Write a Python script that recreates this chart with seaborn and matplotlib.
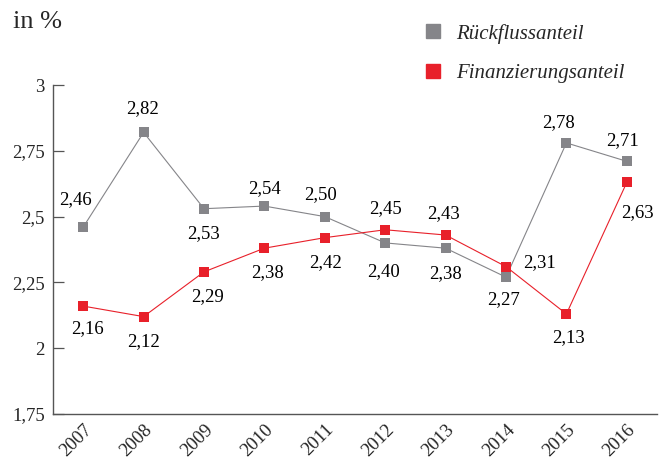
import matplotlib
matplotlib.use("Agg")
import matplotlib.pyplot as plt
import matplotlib.transforms as mtransforms
import numpy as np
import pandas as pd
import seaborn as sns
from matplotlib.lines import Line2D

years = [2007, 2008, 2009, 2010, 2011, 2012, 2013, 2014, 2015, 2016]
rueckfluss = [2.46, 2.82, 2.53, 2.54, 2.50, 2.40, 2.38, 2.27, 2.78, 2.71]
finanzierung = [2.16, 2.12, 2.29, 2.38, 2.42, 2.45, 2.43, 2.31, 2.13, 2.63]
series_names = ["Rückflussanteil", "Finanzierungsanteil"]
y_ticks = [1.75, 2.0, 2.25, 2.5, 2.75, 3.0]
y_ticklabels = ["1,75", "2", "2,25", "2,5", "2,75", "3"]

# label offsets in pixels (dx, dy)
off_r = [(-8, 28), (-1, 24), (0, -25), (0, 17), (-4, 22),
         (-2, -29), (0, -25), (-3, -22), (-8, 20), (-4, 21)]
off_f = [(4, -23), (0, -25), (4, -25), (3, -24), (1, -25),
         (0, 21), (-2, 21), (33, 4), (2, -24), (11, -30)]

GRAY = "#858589"
RED = "#e8202a"

sns.set_style("white")
plt.rcParams["font.family"] = ["Liberation Serif", "DejaVu Serif"]

df = pd.DataFrame({"Jahr": years * 2,
                   "Wert": rueckfluss + finanzierung,
                   "Reihe": [series_names[0]] * len(years) + [series_names[1]] * len(years)})

fig = plt.figure(figsize=(6.68, 4.59), dpi=100)
ax = fig.add_axes([53 / 668, 45 / 459, 604 / 668, 329 / 459])

sns.lineplot(data=df, x="Jahr", y="Wert", hue="Reihe", palette=[GRAY, RED],
             marker="s", markersize=7.5, markeredgewidth=0, linewidth=0.8,
             legend=False, ax=ax)

for vals, offs in [(rueckfluss, off_r), (finanzierung, off_f)]:
    for x, v, (dx, dy) in zip(years, vals, offs):
        ax.annotate(f"{v:.2f}".replace(".", ","), (x, v), xytext=(dx, dy),
                    textcoords="offset pixels", ha="center", va="center",
                    fontsize=13.5, color="black")

ax.set_xlim(years[0] - 0.5, years[-1] + 0.5)
ax.set_ylim(1.75, 3.0)
ax.set_xticks(years)
ax.set_xticklabels([str(y) for y in years], rotation=45, ha="right",
                   rotation_mode="anchor", fontsize=13.5)
shift = mtransforms.ScaledTranslation(-5 / 100, 0, fig.dpi_scale_trans)
for lbl in ax.get_xticklabels():
    lbl.set_transform(lbl.get_transform() + shift)
ax.set_xticks([y + 0.5 for y in years], minor=True)
ax.set_yticks(y_ticks)
ax.set_yticklabels(y_ticklabels, fontsize=13.5)
ax.tick_params(axis="x", which="major", length=0, pad=5)
ax.tick_params(axis="x", which="minor", direction="in", length=8, width=0.9, color="#555555")
ax.tick_params(axis="y", direction="in", length=8, width=0.9, color="#555555", pad=6, left=True)
ax.set_xlabel("")
ax.set_ylabel("")
for s in ["top", "right"]:
    ax.spines[s].set_visible(False)
for s in ["left", "bottom"]:
    ax.spines[s].set_color("#555555")
    ax.spines[s].set_linewidth(1.0)

fig.text(13 / 668, 1 - 22 / 459, "in %", fontsize=19, va="center", ha="left")

handles = [Line2D([], [], marker="s", color=c, linestyle="none", markersize=9.5)
           for c in [GRAY, RED]]
fig.legend(handles, series_names, loc="upper left", bbox_to_anchor=(404 / 668, 1 - 5 / 459),
           frameon=False, prop={"style": "italic", "size": 15},
           labelspacing=0.95, handletextpad=0.6, handlelength=1.0)

fig.savefig("out.png", dpi=100)
